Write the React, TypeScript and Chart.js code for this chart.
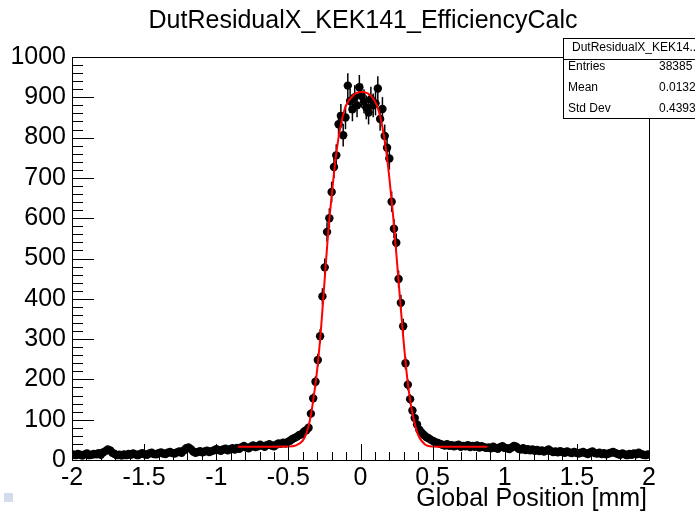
import React, { useEffect, useRef } from "react";
import { Chart, registerables } from "chart.js";

Chart.register(...registerables);

const TITLE = "DutResidualX_KEK141_EfficiencyCalc";
const X_TITLE = "Global Position [mm]";
const X_MIN = -2;
const X_MAX = 2;
const BIN_WIDTH = 0.016;
const Y_MIN = 0;
const Y_MAX = 1000;

// histogram bin contents (250 bins from -2 to 2)
const counts: number[] = [
  14, 12, 15, 13, 11, 14, 16, 12, 13, 15,
  14, 17, 13, 19, 22, 26, 24, 18, 15, 12,
  13, 11, 14, 12, 15, 13, 16, 14, 12, 15,
  17, 14, 13, 16, 18, 15, 14, 17, 19, 16,
  15, 18, 20, 17, 16, 19, 21, 18, 24, 29,
  31, 27, 21, 18, 20, 22, 19, 21, 23, 20,
  22, 24, 27, 25, 23, 26, 28, 24, 27, 29,
  26, 30, 28, 32, 35, 31, 29, 33, 36, 32,
  34, 38, 35, 33, 37, 39, 36, 34, 38, 41,
  40, 43, 41, 45, 48, 52, 55, 58, 62, 64,
  70, 74, 80, 115, 153, 194, 248, 307, 406, 478,
  566, 600, 665, 727, 756, 833, 854, 806, 850, 929,
  891, 870, 900, 880, 925, 904, 890, 875, 862, 896,
  880, 885, 922, 846, 871, 804, 775, 748, 641, 574,
  539, 449, 390, 332, 240, 187, 151, 123, 104, 88,
  75, 68, 62, 57, 54, 50, 47, 44, 42, 40,
  38, 36, 39, 35, 37, 34, 36, 38, 33, 35,
  34, 37, 32, 35, 33, 36, 31, 34, 32, 30,
  31, 29, 33, 30, 28, 32, 34, 30, 29, 27,
  31, 35, 33, 28, 26, 29, 25, 27, 24, 26,
  23, 25, 22, 24, 21, 23, 26, 22, 20, 21,
  19, 22, 20, 18, 21, 19, 17, 20, 18, 16,
  18, 20, 17, 15, 19, 21, 17, 16, 18, 15,
  17, 14, 16, 18, 20, 17, 15, 13, 16, 14,
  12, 15, 13, 16, 14, 18, 15, 13, 12, 14,
];

// fit curve
const fitX: number[] = [
  -0.85, -0.6, -0.5, -0.45, -0.4, -0.375, -0.35, -0.325, -0.3, -0.275, -0.25, -0.225,
  -0.2, -0.175, -0.15, -0.125, -0.1, -0.05, 0, 0.05, 0.1, 0.125, 0.15, 0.175, 0.2,
  0.225, 0.25, 0.275, 0.3, 0.325, 0.35, 0.375, 0.4, 0.45, 0.5, 0.6, 0.88,
];
const fitY: number[] = [
  33, 33, 33.3, 36, 48, 66, 100, 155, 225, 320, 440, 560,
  655, 740, 805, 850, 880, 905, 913, 910, 890, 868, 830, 775, 700,
  610, 505, 395, 290, 200, 135, 92, 62, 38, 33.5, 33, 33,
];

const statsHeader = "DutResidualX_KEK14...";
const statsLabels = ["Entries", "Mean", "Std Dev"];
const statsValues = ["38385", "0.01320", "0.4393"];

const FONT = "'Liberation Sans', Arial, Helvetica, sans-serif";

const rootPlugin = {
  id: "rootStyle",
  beforeDatasetsDraw(chart: any) {
    const { ctx, chartArea: a, scales } = chart;
    const x = scales.x;
    const y = scales.y;
    ctx.save();
    ctx.beginPath();
    ctx.rect(a.left, a.top, a.right - a.left, a.bottom - a.top);
    ctx.clip();
    ctx.strokeStyle = "#000";
    ctx.lineWidth = 1.5;
    counts.forEach((c, i) => {
      const cx = x.getPixelForValue(X_MIN + (i + 0.5) * BIN_WIDTH);
      const e = Math.sqrt(c);
      ctx.beginPath();
      ctx.moveTo(cx, y.getPixelForValue(c - e));
      ctx.lineTo(cx, y.getPixelForValue(c + e));
      ctx.stroke();
    });
    ctx.restore();
  },
  afterDraw(chart: any) {
    const { ctx, chartArea: a, scales } = chart;
    const x = scales.x;
    const y = scales.y;
    ctx.save();
    // frame
    ctx.strokeStyle = "#000";
    ctx.lineWidth = 1;
    ctx.strokeRect(Math.round(a.left) + 0.5, Math.round(a.top) + 0.5, Math.round(a.right - a.left), Math.round(a.bottom - a.top));
    // x ticks
    for (let k = -20; k <= 20; k++) {
      const px = Math.round(x.getPixelForValue(k / 10)) + 0.5;
      const len = k % 5 === 0 ? 16 : 8;
      ctx.beginPath();
      ctx.moveTo(px, a.bottom);
      ctx.lineTo(px, a.bottom - len);
      ctx.stroke();
    }
    // y ticks
    for (let k = 0; k <= 50; k++) {
      const py = Math.round(y.getPixelForValue(k * 20)) + 0.5;
      const len = k % 5 === 0 ? 22 : 11;
      ctx.beginPath();
      ctx.moveTo(a.left, py);
      ctx.lineTo(a.left + len, py);
      ctx.stroke();
    }
    // title
    ctx.fillStyle = "#000";
    ctx.font = `25px ${FONT}`;
    ctx.textAlign = "center";
    ctx.textBaseline = "alphabetic";
    ctx.fillText(TITLE, 363, 28);
    // axis title
    ctx.textAlign = "right";
    ctx.fillText(X_TITLE, 647, 506);
    // stats box
    ctx.fillStyle = "#fff";
    ctx.fillRect(563, 38, 140, 80);
    ctx.strokeStyle = "#000";
    ctx.strokeRect(563.5, 38.5, 140, 80);
    ctx.beginPath();
    ctx.moveTo(563, 59.5);
    ctx.lineTo(700, 59.5);
    ctx.stroke();
    ctx.fillStyle = "#000";
    ctx.font = `12px ${FONT}`;
    ctx.textBaseline = "middle";
    ctx.textAlign = "left";
    ctx.fillText(statsHeader, 572, 48);
    const rowsY = [67, 88, 109];
    statsLabels.forEach((l, i) => {
      ctx.fillText(l, 568, rowsY[i]);
      ctx.fillText(statsValues[i], 659, rowsY[i]);
    });
    // small canvas marker
    ctx.fillStyle = "#d3dcea";
    ctx.fillRect(4, 493, 9, 9);
    ctx.restore();
  },
};

export default function App() {
  const ref = useRef<HTMLCanvasElement | null>(null);
  useEffect(() => {
    if (!ref.current) return;
    const chart = new Chart(ref.current, {
      type: "scatter",
      data: {
        datasets: [
          {
            type: "line",
            data: fitX.map((v, i) => ({ x: v, y: fitY[i] })),
            borderColor: "#ff0000",
            borderWidth: 2,
            pointRadius: 0,
            cubicInterpolationMode: "monotone",
            fill: false,
            showLine: true,
            order: 0,
          } as any,
          {
            data: counts.map((c, i) => ({ x: X_MIN + (i + 0.5) * BIN_WIDTH, y: c })),
            backgroundColor: "#000",
            borderColor: "#000",
            borderWidth: 0,
            pointRadius: 4.2,
            order: 1,
          } as any,
        ],
      },
      options: {
        responsive: false,
        animation: false,
        devicePixelRatio: 1,
        layout: { padding: { top: 57, right: 46, bottom: 0, left: 0 } },
        plugins: {
          legend: { display: false },
          tooltip: { enabled: false },
          title: { display: false },
        },
        scales: {
          x: {
            type: "linear",
            min: X_MIN,
            max: X_MAX,
            grid: { display: false, drawTicks: false, tickLength: 0 },
            border: { display: false },
            ticks: {
              stepSize: 0.5,
              color: "#000",
              font: { family: FONT, size: 25 },
              padding: 3,
              maxRotation: 0,
              autoSkip: false,
              callback: (v: any) => String(Math.round(Number(v) * 10) / 10),
            },
            afterFit: (s: any) => {
              s.height = 54;
            },
          },
          y: {
            type: "linear",
            min: Y_MIN,
            max: Y_MAX,
            grid: { display: false, drawTicks: false, tickLength: 0 },
            border: { display: false },
            ticks: {
              stepSize: 100,
              color: "#000",
              font: { family: FONT, size: 25 },
              padding: 6,
              autoSkip: false,
              callback: (v: any) => String(Math.round(Number(v))),
            },
            afterFit: (s: any) => {
              s.width = 72;
            },
          },
        },
      } as any,
      plugins: [rootPlugin],
    });
    return () => chart.destroy();
  }, []);
  return (
    <div style={{ position: "absolute", left: 0, top: 0, width: 695, height: 514, background: "#fff" }}>
      <canvas ref={ref} width={695} height={514} style={{ display: "block" }} />
    </div>
  );
}
